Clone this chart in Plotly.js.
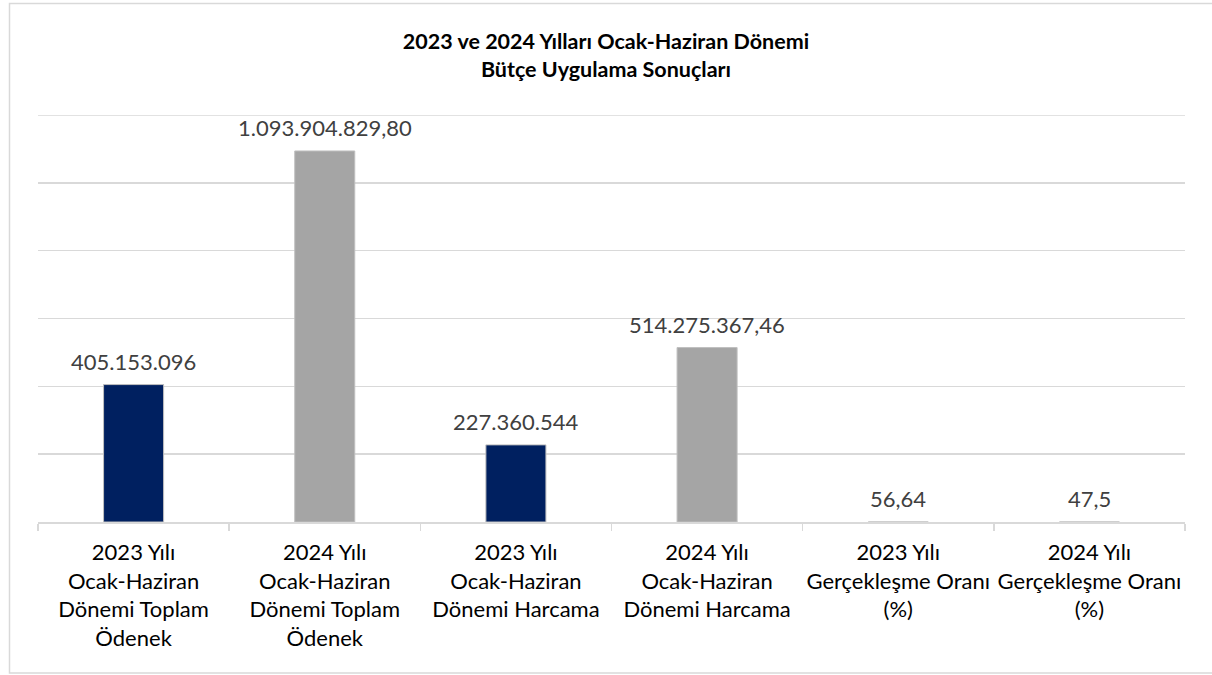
<!DOCTYPE html>
<html>
<head>
<meta charset="utf-8">
<script src="https://cdn.plot.ly/plotly-3.0.1.min.js"></script>
<style>html,body{margin:0;padding:0;background:#fff;}#chart{width:1212px;height:675px;}</style>
</head>
<body>
<div id="chart"></div>
<script>
const categories = [
  "2023 Yılı<br>Ocak-Haziran<br>Dönemi Toplam<br>Ödenek",
  "2024 Yılı<br>Ocak-Haziran<br>Dönemi Toplam<br>Ödenek",
  "2023 Yılı<br>Ocak-Haziran<br>Dönemi Harcama",
  "2024 Yılı<br>Ocak-Haziran<br>Dönemi Harcama",
  "2023 Yılı<br>Gerçekleşme Oranı<br>(%)",
  "2024 Yılı<br>Gerçekleşme Oranı<br>(%)"
];
const values = [405153096, 1093904829.80, 227360544, 514275367.46, 56.64, 47.5];
const valueLabels = ["405.153.096", "1.093.904.829,80", "227.360.544", "514.275.367,46", "56,64", "47,5"];
const barColors = ["#002060", "#A5A5A5", "#002060", "#A5A5A5", "#002060", "#A5A5A5"];
const titleText = "<b>2023 ve 2024 Yılları Ocak-Haziran Dönemi<br>Bütçe Uygulama Sonuçları</b>";
const yMax = 1200000000;

const FONT = "Lato, 'Open Sans', sans-serif";

const trace = {
  type: "bar",
  x: categories,
  y: values,
  width: 0.314,
  marker: { color: barColors, line: { color: "#BFBFBF", width: 1 } },
  hoverinfo: "skip"
};

const annotations = categories.map((c, i) => ({
  x: c, y: values[i], xref: "x", yref: "y",
  text: valueLabels[i], showarrow: false,
  yanchor: "bottom", yshift: 8,
  font: { family: FONT, size: 22, color: "#404040" }
}));

const L = 38, R = 1185, T = 115, B = 522;
const pw = R - L, ph = B - T;
const shapes = [{
  type: "rect", xref: "paper", yref: "paper",
  x0: (9.5 - L) / pw, x1: (1216 - L) / pw,
  y0: (B - 673) / ph, y1: (B - 3.5) / ph,
  line: { color: "#D9D9D9", width: 1.5 }, fillcolor: "rgba(0,0,0,0)", layer: "below"
}, {
  type: "line", xref: "paper", yref: "y",
  x0: 0, x1: 1, y0: yMax, y1: yMax,
  line: { color: "#D9D9D9", width: 1.5 }, layer: "below"
}];

const layout = {
  width: 1212, height: 675,
  margin: { l: L, r: 1212 - R, t: T, b: 675 - B, pad: 0 },
  paper_bgcolor: "#FFFFFF", plot_bgcolor: "#FFFFFF",
  showlegend: false,
  title: {
    text: titleText, x: 0.5, xref: "container", xanchor: "center",
    y: 1 - 49 / 675, yref: "container", yanchor: "top",
    font: { family: FONT, size: 21.5, color: "#000000" }
  },
  xaxis: {
    type: "category",
    showline: true, linecolor: "#D9D9D9", linewidth: 1.5,
    ticks: "outside", tickson: "boundaries", ticklen: 7, tickcolor: "#D9D9D9", tickwidth: 1.5,
    ticklabelstandoff: 10, tickangle: 0,
    tickfont: { family: FONT, size: 22, color: "#000000" },
    showgrid: false, zeroline: false, automargin: false
  },
  yaxis: {
    range: [0, yMax], dtick: 200000000, tick0: 0,
    showticklabels: false, ticks: "",
    showgrid: true, gridcolor: "#D9D9D9", gridwidth: 1.5,
    zeroline: false, showline: false, fixedrange: true
  },
  annotations: annotations,
  shapes: shapes
};

Plotly.newPlot("chart", [trace], layout, { displayModeBar: false, staticPlot: true });
</script>
</body>
</html>
